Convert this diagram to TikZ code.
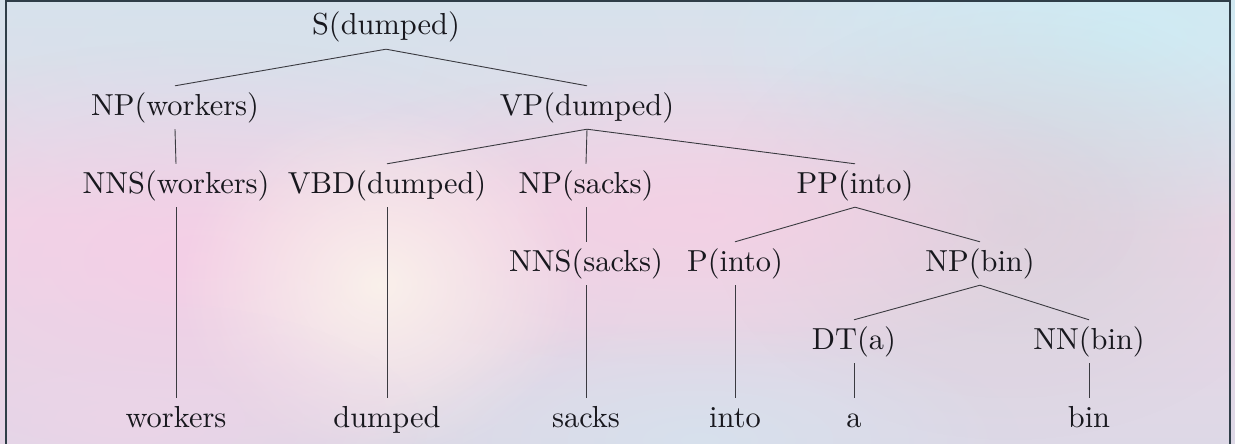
\documentclass[tikz,border=0pt]{standalone}
\usepackage{graphicx}
\usetikzlibrary{fadings}
\newcommand\tnbig[1]{\scalebox{3.04}{\fontsize{10}{12}\selectfont #1}}
\definecolor{bgtop}{HTML}{D7E2EC}
\definecolor{bgmid}{HTML}{EDD6E6}
\definecolor{bgbot}{HTML}{DDD8E6}
\definecolor{framec}{HTML}{2F3E48}
\definecolor{inkc}{HTML}{18181E}
\definecolor{edgec}{HTML}{3A3A40}
\tikzfading[name=softblob, inner color=transparent!0, outer color=transparent!100]
\tikzset{
  treenode/.style={text=inkc, text height=24pt, text depth=9pt,
    inner xsep=0pt, inner ysep=5pt, anchor=base},
  branch/.style={draw=edgec, line width=0.9pt},
  blob/.style={path fading=softblob, fill opacity=0.85},
}
\begin{document}
\begin{tikzpicture}[x=1pt,y=-1pt]
\useasboundingbox (0,0) rectangle (1235,444);
\clip (0,0) rectangle (1235,444);
% background
\shade[top color=bgtop, bottom color=bgbot, middle color=bgmid] (0,0) rectangle (1235,444);
\fill[blob, color={rgb,255:red,205;green,238;blue,246}] (1120,40) ellipse (420 and 200);
\fill[blob, color={rgb,255:red,214;green,226;blue,236}] (250,60) ellipse (420 and 180);
\fill[blob, color={rgb,255:red,212;green,210;blue,218}] (1010,220) ellipse (300 and 220);
\fill[blob, color={rgb,255:red,246;green,206;blue,230}] (200,260) ellipse (440 and 220);
\fill[blob, color={rgb,255:red,244;green,208;blue,228}] (700,215) ellipse (440 and 150);
\fill[blob, color={rgb,255:red,252;green,246;blue,236}] (380,285) ellipse (200 and 180);
\fill[blob, color={rgb,255:red,214;green,226;blue,238}] (700,440) ellipse (320 and 120);
\fill[blob, color={rgb,255:red,236;green,212;blue,232}] (120,420) ellipse (300 and 120);
% frame
\draw[framec, line width=2pt] (5.5,460) -- (5.5,1.5) -- (1230,1.5) -- (1230,460);
% nodes
\node[treenode] (S)    at (386,35)  {\tnbig{S(dumped)}};
\node[treenode] (NPw)  at (175,115) {\tnbig{NP(workers)}};
\node[treenode] (VP)   at (587,115) {\tnbig{VP(dumped)}};
\node[treenode] (NNSw) at (176,193) {\tnbig{NNS(workers)}};
\node[treenode] (VBD)  at (387,193) {\tnbig{VBD(dumped)}};
\node[treenode] (NPs)  at (586,193) {\tnbig{NP(sacks)}};
\node[treenode] (PP)   at (855,193) {\tnbig{PP(into)}};
\node[treenode] (NNSs) at (586,271) {\tnbig{NNS(sacks)}};
\node[treenode] (P)    at (735,271) {\tnbig{P(into)}};
\node[treenode] (NPb)  at (980,271) {\tnbig{NP(bin)}};
\node[treenode] (DT)   at (854,349) {\tnbig{DT(a)}};
\node[treenode] (NN)   at (1089,349) {\tnbig{NN(bin)}};
\node[treenode] (w1)   at (176,427) {\tnbig{workers}};
\node[treenode] (w2)   at (387,427) {\tnbig{dumped}};
\node[treenode] (w3)   at (586,427) {\tnbig{sacks}};
\node[treenode] (w4)   at (735,427) {\tnbig{into}};
\node[treenode] (w5)   at (854,427) {\tnbig{a}};
\node[treenode] (w6)   at (1089,427) {\tnbig{bin}};
% edges
\draw[branch] (S.south) -- (NPw.north);
\draw[branch] (S.south) -- (VP.north);
\draw[branch] (NPw.south) -- (NNSw.north);
\draw[branch] (VP.south) -- (VBD.north);
\draw[branch] (VP.south) -- (NPs.north);
\draw[branch] (VP.south) -- (PP.north);
\draw[branch] (NPs.south) -- (NNSs.north);
\draw[branch] (PP.south) -- (P.north);
\draw[branch] (PP.south) -- (NPb.north);
\draw[branch] (NPb.south) -- (DT.north);
\draw[branch] (NPb.south) -- (NN.north);
\draw[branch] (NNSw.south) -- (w1.north);
\draw[branch] (VBD.south) -- (w2.north);
\draw[branch] (NNSs.south) -- (w3.north);
\draw[branch] (P.south) -- (w4.north);
\draw[branch] (DT.south) -- (w5.north);
\draw[branch] (NN.south) -- (w6.north);
\end{tikzpicture}
\end{document}
